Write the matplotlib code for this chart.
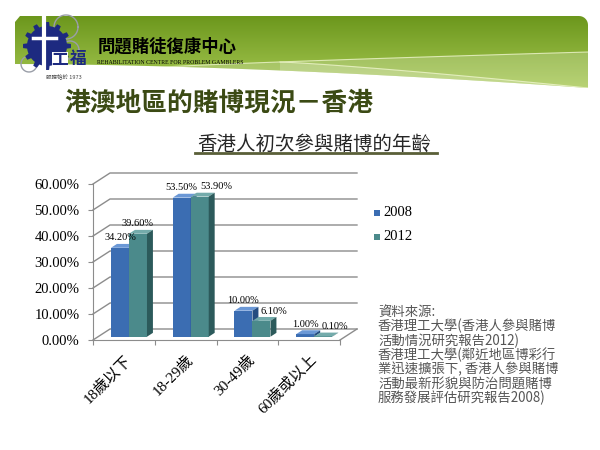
import matplotlib
matplotlib.use('Agg')
import matplotlib.pyplot as plt
import numpy as np
from matplotlib.patches import Polygon, Rectangle
from matplotlib.ticker import FuncFormatter

# ---- data ----
categories = ['18歲以下', '18-29歲', '30-49歲', '60歲或以上']
years = ['2008', '2012']
pct_2008 = [34.2, 53.5, 10.0, 1.0]
pct_2012 = [39.6, 53.9, 6.1, 0.1]
y_ticks = [0, 10, 20, 30, 40, 50, 60]

title = '港澳地區的賭博現況－香港'
subtitle = '香港人初次參與賭博的年齡'
org_name = '問題賭徒復康中心'
org_name_en = 'REHABILITATION CENTRE FOR PROBLEM GAMBLERS'
source_lines = ['資料來源:',
                '香港理工大學(香港人參與賭博',
                '活動情況研究報告2012)',
                '香港理工大學(鄰近地區博彩行',
                '業迅速擴張下, 香港人參與賭博',
                '活動最新形貌與防治問題賭博',
                '服務發展評估研究報告2008)']

CJK = ['Noto Sans CJK TC', 'DejaVu Sans']
SERIF = ['Liberation Serif', 'Noto Sans CJK TC']

fig = plt.figure(figsize=(6, 4.5), dpi=100)
fig.patch.set_facecolor('white')

# background layer in pixel coordinates
bg = fig.add_axes([0, 0, 1, 1])
bg.set_xlim(0, 600)
bg.set_ylim(450, 0)
bg.axis('off')

# ---- green banner ----
arc = np.linspace(-np.pi / 2, 0, 8)
verts = [(15, 22), (20, 16)]
verts += [(579 + 9 * np.cos(a), 25 + 9 * np.sin(a)) for a in arc]
verts += [(588, 88)]
tt = np.linspace(1, 0, 25)
verts += [(15 + 573 * s, 64 + 24 * s ** 1.7) for s in tt]
banner = Polygon(verts, closed=True, facecolor='none', edgecolor='none')
bg.add_patch(banner)
grad = np.linspace(0, 1, 100)[:, None]
c_top = np.array([0.42, 0.59, 0.11])
c_bot = np.array([0.66, 0.79, 0.33])
img = c_top + (c_bot - c_top) * grad[..., None] * np.ones((1, 2, 1))
im = bg.imshow(img, extent=[15, 588, 90, 15], aspect='auto', zorder=1)
im.set_clip_path(banner)

# light swooshes
sx = np.linspace(150, 588, 30)
s1 = 68 - 16 * ((sx - 150) / 438) ** 0.8
poly1 = Polygon(list(zip(sx, s1)) + [(588, 95), (150, 95)], closed=True,
                facecolor='white', alpha=0.2, edgecolor='none', zorder=2)
bg.add_patch(poly1)
poly1.set_clip_path(banner)
sx2 = np.linspace(280, 588, 30)
s2 = 62 + 26 * ((sx2 - 280) / 308) ** 1.2
poly2 = Polygon(list(zip(sx2, s2)) + [(588, 95), (280, 95)], closed=True,
                facecolor='white', alpha=0.2, edgecolor='none', zorder=2)
bg.add_patch(poly2)
poly2.set_clip_path(banner)
l1, = bg.plot(sx, s1, color='#eef5cc', lw=0.8, alpha=0.8, zorder=3)
l1.set_clip_path(banner)
l2, = bg.plot(sx2, s2, color='#eef5cc', lw=0.8, alpha=0.8, zorder=3)
l2.set_clip_path(banner)

# ---- logo ----
ang = np.linspace(0, 2 * np.pi, 145)
for cx, cy, r in [(66, 27, 12), (29, 64, 8), (70, 50, 9)]:
    bg.plot(cx + r * np.cos(ang), cy + r * np.sin(ang), color='#9a9ea8',
            lw=1.0, zorder=3)
rad = 20 + 4 * (np.cos(ang * 12) > 0.2)
gear = Polygon(list(zip(47 + rad * np.cos(ang), 46 + rad * np.sin(ang))),
               closed=True, facecolor='#1d2a80', edgecolor='none', zorder=4)
bg.add_patch(gear)
bg.plot([44, 44], [18, 72], color='white', lw=3, zorder=5)
bg.plot([33, 56], [38, 38], color='white', lw=2.5, zorder=5)
bg.add_patch(Rectangle((52, 52), 16, 16, facecolor='white', edgecolor='none',
                       zorder=5))
bg.text(60, 60, '工', fontsize=12, fontweight='bold', color='#1d2a80',
        family=CJK, ha='center', va='center', zorder=6)
bg.text(78, 59, '福', fontsize=12, fontweight='bold', color='#1d2a80',
        family=CJK, ha='center', va='center', zorder=6)
bg.text(64, 76, '服務始於 1973', fontsize=4, color='#444444', family=CJK,
        ha='center', va='center', zorder=6)

bg.text(98, 47, org_name, fontsize=12.5, fontweight='bold', color='black',
        family=CJK, ha='left', va='center', zorder=6)
bg.text(97, 62, org_name_en, fontsize=4.2, color='black', family=SERIF,
        ha='left', va='center', zorder=6)

# ---- titles ----
bg.text(64, 103, title, fontsize=18.5, fontweight='bold', color='#3b4a14',
        family=CJK, ha='left', va='center')
bg.text(197, 144, subtitle, fontsize=14, color='#262626', family=CJK,
        ha='left', va='center')
bg.plot([195, 437], [153, 153], color='#5a5f38', lw=2)

# ---- source note ----
for k, line in enumerate(source_lines):
    bg.text(378, 312 + k * 14.3, line, fontsize=9.6, color='#555555',
            family=CJK, ha='left', va='center')

# ---- legend ----
front_cols = ['#3b6db2', '#4b8a8b']
top_cols = ['#6b98d6', '#74abab']
side_cols = ['#254c80', '#2c5a5b']
for k, yr in enumerate(years):
    yy = 213 + k * 23.5
    bg.add_patch(Rectangle((374, yy - 3), 6, 6, facecolor=front_cols[k],
                           edgecolor='none'))
    bg.text(383, yy, yr, fontsize=10.5, family=SERIF, ha='left', va='center')

# ---- chart ----
PX_X = 61.75
PX_Y = 2.6
DX = 17 / PX_X
DY = 11 / PX_Y
ax = fig.add_axes([93 / 600, 110 / 450, (4 * PX_X + 17) / 600,
                   (60 * PX_Y + 11) / 450])
ax.set_xlim(-0.5, 3.5 + DX)
ax.set_ylim(0, 60 + DY)
ax.patch.set_alpha(0)
grid_c = '#8c8c8c'
for s in ['top', 'right']:
    ax.spines[s].set_visible(False)
ax.spines['left'].set_bounds(0, 60)
ax.spines['bottom'].set_bounds(-0.5, 3.5)
for s in ['left', 'bottom']:
    ax.spines[s].set_color(grid_c)

ax.set_yticks(y_ticks)
ax.yaxis.set_major_formatter(FuncFormatter(lambda v, p: '%.2f%%' % v))
ax.tick_params(axis='y', length=3.6, color=grid_c, labelsize=10.5, pad=6)
for lbl in ax.get_yticklabels():
    lbl.set_family(SERIF)

xpos = np.arange(len(categories))
ax.set_xticks(np.arange(-0.5, len(categories)), labels=[''] * 5)
ax.set_xticks(xpos, labels=categories, minor=True)
ax.tick_params(axis='x', which='major', length=3.6, color=grid_c)
ax.tick_params(axis='x', which='minor', length=0, pad=9, labelsize=11)
for lbl in ax.get_xticklabels(minor=True):
    lbl.set_rotation(45)
    lbl.set_ha('right')
    lbl.set_va('top')
    lbl.set_rotation_mode('anchor')
    lbl.set_family(SERIF)

# back walls and floor
for y in y_ticks:
    ax.plot([-0.5, -0.5 + DX, 3.5 + DX], [y, y + DY, y + DY], color=grid_c,
            lw=1, zorder=1, clip_on=False)
ax.plot([3.5, 3.5 + DX], [0, DY], color=grid_c, lw=1, zorder=1, clip_on=False)

# pseudo-3D bars
f = 0.3
g = 0.35
w = 18 / PX_X
bdx = g * DX
bdy = g * DY
label_nudge = [[0, 0, 0, 0], [0, 17, 12, 12]]
for i, vals in enumerate([pct_2008, pct_2012]):
    lefts = xpos + f * DX + (i - 1) * w
    ax.bar(lefts, vals, width=w, bottom=f * DY, align='edge',
           color=front_cols[i], edgecolor='none', zorder=3)
    for j, v in enumerate(vals):
        x0 = lefts[j]
        y0 = f * DY
        top = y0 + v
        ax.add_patch(Polygon([(x0, top), (x0 + w, top), (x0 + w + bdx, top + bdy),
                              (x0 + bdx, top + bdy)], closed=True,
                             facecolor=top_cols[i], edgecolor='none', zorder=3))
        ax.add_patch(Polygon([(x0 + w, y0), (x0 + w + bdx, y0 + bdy),
                              (x0 + w + bdx, top + bdy), (x0 + w, top)],
                             closed=True, facecolor=side_cols[i],
                             edgecolor='none', zorder=3))
        ax.text(x0 + w / 2 + label_nudge[i][j] / PX_X, top + bdy + 2.3,
                '%.2f%%' % v, fontsize=7.5, family=SERIF, ha='center',
                va='center', zorder=5)

fig.savefig('out.png', dpi=100)
